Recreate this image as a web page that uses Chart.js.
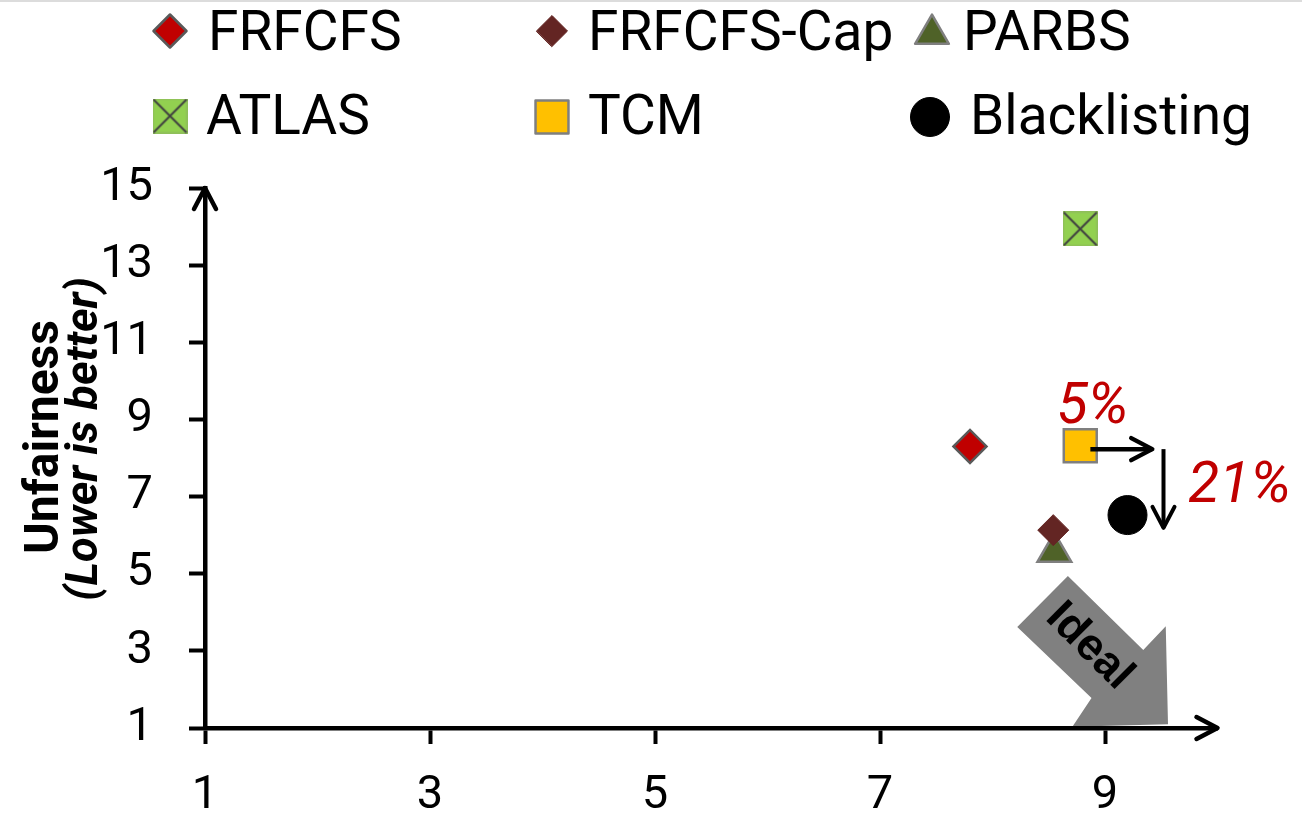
<!DOCTYPE html>
<html>
<head>
<meta charset="utf-8">
<script src="https://cdn.jsdelivr.net/npm/chart.js@4.4.0/dist/chart.umd.min.js"></script>
<style>
  body { margin: 0; background: #fff; }
  #wrap { width: 1302px; height: 816px; }
</style>
</head>
<body>
<div id="wrap"><canvas id="chart" width="1302" height="816"></canvas></div>
<script>
// Values (x = performance, y = unfairness)
const seriesNames = ['FRFCFS', 'FRFCFS-Cap', 'PARBS', 'ATLAS', 'TCM', 'Blacklisting'];
const xValues = [7.80, 8.54, 8.55, 8.78, 8.78, 9.20];
const yValues = [8.30, 6.13, 5.56, 13.94, 8.32, 6.52];
const xTicks = [1, 3, 5, 7, 9];
const yTicks = [1, 3, 5, 7, 9, 11, 13, 15];
const yTitle = 'Unfairness';
const ySubTitle = '(Lower is better)';

// ATLAS marker: green square with a cross through it
function atlasMarker() {
    const c = document.createElement('canvas');
    c.width = 35; c.height = 35;
    const g = c.getContext('2d');
    g.fillStyle = '#92D050';
    g.fillRect(0, 0, 35, 35);
    g.strokeStyle = '#8fbf5a';
    g.lineWidth = 1.5;
    g.strokeRect(0.75, 0.75, 33.5, 33.5);
    g.strokeStyle = '#404040';
    g.lineWidth = 2;
    g.beginPath();
    g.moveTo(1, 1); g.lineTo(34, 34);
    g.moveTo(34, 1); g.lineTo(1, 34);
    g.stroke();
    return c;
}

// marker styles, same order as seriesNames
const styles = [
    { pointStyle: 'rectRot', radius: 16.5, bg: '#C00000', border: '#595959', bw: 2.5 },
    { pointStyle: 'rectRot', radius: 15.5, bg: '#632523', border: '#632523', bw: 1 },
    { pointStyle: 'triangle', radius: 19.5, bg: '#4F6228', border: '#7F7F7F', bw: 2.5 },
    { pointStyle: atlasMarker(), radius: 18, bg: '#92D050', border: '#404040', bw: 0 },
    { pointStyle: 'rect', radius: 23.3, bg: '#FFC000', border: '#7F7F7F', bw: 2.5 },
    { pointStyle: 'circle', radius: 19.5, bg: '#000000', border: '#000000', bw: 1 }
];

const datasets = seriesNames.map((name, i) => ({
    label: name,
    data: [{ x: xValues[i], y: yValues[i] }],
    pointStyle: styles[i].pointStyle,
    pointRadius: styles[i].radius,
    pointHoverRadius: styles[i].radius,
    backgroundColor: styles[i].bg,
    borderColor: styles[i].border,
    borderWidth: styles[i].bw,
    clip: false
}));

// legend grid positions (marker centre, text start, text baseline)
const legendPos = [
    { mx: 170, my: 31, tx: 208, ty: 50 },
    { mx: 552, my: 31, tx: 588, ty: 50 },
    { mx: 932, my: 34, tx: 963, ty: 50 },
    { mx: 170, my: 116, tx: 206, ty: 134 },
    { mx: 552, my: 117, tx: 588, ty: 134 },
    { mx: 930, my: 117, tx: 970, ty: 134 }
];

// big grey "Ideal" arrow, in data units
const idealArrow = [[8.22, 3.62], [8.67, 4.94], [9.34, 3.02], [9.54, 3.64], [9.56, 1.10], [8.71, 1.03], [8.88, 1.78]];

function chevron(ctx, x, y, dir, back, half) {
    ctx.beginPath();
    if (dir === 'right') {
        ctx.moveTo(x - back, y - half); ctx.lineTo(x, y); ctx.lineTo(x - back, y + half);
    } else if (dir === 'down') {
        ctx.moveTo(x - half, y - back); ctx.lineTo(x, y); ctx.lineTo(x + half, y - back);
    } else {
        ctx.moveTo(x - half, y + back); ctx.lineTo(x, y); ctx.lineTo(x + half, y + back);
    }
    ctx.stroke();
}

const extras = {
    id: 'extras',
    beforeDraw(chart) {
        const ctx = chart.ctx, xs = chart.scales.x, ys = chart.scales.y;
        ctx.save();
        // thin grey line along the top edge
        ctx.fillStyle = '#dcdcdc';
        ctx.fillRect(0, 0, chart.width, 2);
        // Ideal arrow
        ctx.fillStyle = '#808080';
        ctx.beginPath();
        idealArrow.forEach((p, i) => {
            const px = xs.getPixelForValue(p[0]), py = ys.getPixelForValue(p[1]);
            if (i === 0) ctx.moveTo(px, py); else ctx.lineTo(px, py);
        });
        ctx.closePath();
        ctx.fill();
        ctx.translate(xs.getPixelForValue(8.86), ys.getPixelForValue(3.12));
        ctx.rotate(Math.PI / 4);
        ctx.fillStyle = '#000';
        ctx.font = 'bold 45px "Liberation Sans", Arial, sans-serif';
        ctx.textAlign = 'center';
        ctx.textBaseline = 'middle';
        ctx.fillText('Ideal', 0, 0);
        ctx.restore();
    },
    afterDraw(chart) {
        const ctx = chart.ctx, xs = chart.scales.x, ys = chart.scales.y;
        const area = chart.chartArea;
        ctx.save();
        ctx.strokeStyle = '#000';
        ctx.lineCap = 'round';
        ctx.lineJoin = 'round';
        ctx.lineWidth = 4.5;
        // axis arrowheads
        chevron(ctx, area.right, area.bottom, 'right', 21, 11);
        chevron(ctx, area.left, area.top, 'up', 21, 11);

        // improvement arrows
        const hy = ys.getPixelForValue(8.23);
        ctx.lineCap = 'butt';
        ctx.beginPath();
        ctx.moveTo(xs.getPixelForValue(8.87), hy);
        ctx.lineTo(xs.getPixelForValue(9.42), hy);
        ctx.stroke();
        ctx.lineCap = 'round';
        chevron(ctx, xs.getPixelForValue(9.42), hy, 'right', 21, 11);
        const vx = xs.getPixelForValue(9.52);
        ctx.lineWidth = 4;
        ctx.lineCap = 'butt';
        ctx.beginPath();
        ctx.moveTo(vx, ys.getPixelForValue(8.23));
        ctx.lineTo(vx, ys.getPixelForValue(6.19));
        ctx.stroke();
        ctx.lineCap = 'round';
        chevron(ctx, vx, ys.getPixelForValue(6.19), 'down', 21, 11);

        ctx.fillStyle = '#C00000';
        ctx.font = 'italic 57px Roboto, sans-serif';
        ctx.textAlign = 'left';
        ctx.textBaseline = 'alphabetic';
        ctx.fillText('5%', xs.getPixelForValue(8.57), ys.getPixelForValue(8.91));
        ctx.fillText('21%', xs.getPixelForValue(9.74), ys.getPixelForValue(6.86));

        // legend
        ctx.font = '55px Roboto, sans-serif';
        seriesNames.forEach((name, i) => {
            const st = styles[i], p = legendPos[i];
            ctx.fillStyle = st.bg;
            ctx.strokeStyle = st.border;
            ctx.lineWidth = st.bw;
            Chart.helpers.drawPoint(ctx, { pointStyle: st.pointStyle, radius: st.radius, rotation: 0, borderWidth: st.bw }, p.mx, p.my);
            ctx.fillStyle = '#000';
            ctx.fillText(name, p.tx, p.ty);
        });

        // y axis title, two lines
        ctx.translate(46, 437);
        ctx.rotate(-Math.PI / 2);
        ctx.textAlign = 'center';
        ctx.textBaseline = 'middle';
        ctx.fillStyle = '#000';
        ctx.font = 'bold 48px Roboto, sans-serif';
        ctx.fillText(yTitle, 0, 0);
        ctx.font = 'italic bold 45px Roboto, sans-serif';
        ctx.fillText(ySubTitle, -2, 40);
        ctx.restore();
    }
};

const tickFont = { family: 'Roboto, sans-serif', size: 47 };

new Chart(document.getElementById('chart').getContext('2d'), {
    type: 'scatter',
    data: { datasets: datasets },
    options: {
        responsive: false,
        animation: false,
        layout: { padding: { top: 188, right: 84.5, left: 0, bottom: 0 } },
        plugins: { legend: { display: false }, tooltip: { enabled: false } },
        scales: {
            x: {
                type: 'linear',
                min: 1,
                max: 10,
                afterBuildTicks: s => { s.ticks = xTicks.map(v => ({ value: v })); },
                afterFit: s => { s.height = 88; },
                grid: { drawOnChartArea: false, drawTicks: true, tickLength: 16, tickWidth: 4, tickColor: '#000' },
                border: { color: '#000', width: 4.5 },
                ticks: { font: tickFont, color: '#000', padding: 24, maxRotation: 0 }
            },
            y: {
                type: 'linear',
                min: 1,
                max: 15,
                afterBuildTicks: s => { s.ticks = yTicks.map(v => ({ value: v })); },
                afterFit: s => { s.width = 205; },
                grid: { drawOnChartArea: false, drawTicks: true, tickLength: 16, tickWidth: 4, tickColor: '#000' },
                border: { color: '#000', width: 4.5 },
                ticks: { font: tickFont, color: '#000', padding: 36 }
            }
        }
    },
    plugins: [extras]
});
</script>
</body>
</html>
